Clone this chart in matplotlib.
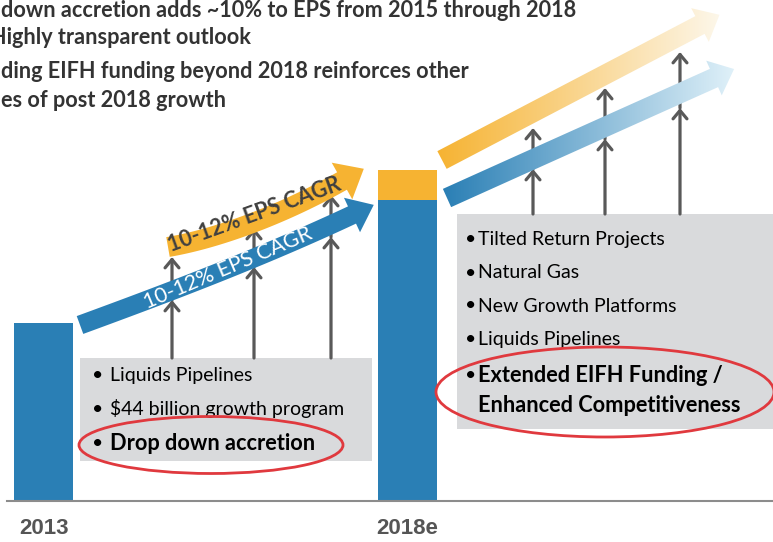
import numpy as np
import matplotlib.pyplot as plt
from matplotlib.patches import Polygon, Rectangle, Ellipse
from matplotlib.colors import LinearSegmentedColormap

# --- data ---------------------------------------------------------------
years = ["2013", "2018e"]
base_eps = [1.00, 1.69]          # EPS index, 2013 = 1.0
dropdown_eps = [0.00, 0.17]      # drop down accretion stacked on 2018e

headline = [
    "down accretion adds ~10% to EPS from 2015 through 2018",
    "Highly transparent outlook",
    "ding EIFH funding beyond 2018 reinforces other",
    "es of post 2018 growth",
]
left_items = ["Liquids Pipelines", "$44 billion growth program"]
left_bold = "Drop down accretion"
right_items = ["Tilted Return Projects", "Natural Gas", "New Growth Platforms",
               "Liquids Pipelines"]
right_bold = ["Extended EIFH Funding /", "Enhanced Competitiveness"]
cagr_label = "10-12% EPS CAGR"

BLUE = "#2a7fb5"
ORANGE = "#f6b332"
GREY = "#595959"
BOX = "#d9dadc"
RED = "#e0393e"
FONT = "Lato"

fig = plt.figure(figsize=(7.73, 5.42), dpi=100)
ax = fig.add_axes([0, 0, 1, 1])


def bezier(p, n=60):
    p = np.array(p, float)
    t = np.linspace(0, 1, n)[:, None]
    if len(p) == 3:
        c = (1 - t) ** 2 * p[0] + 2 * (1 - t) * t * p[1] + t ** 2 * p[2]
    else:
        c = ((1 - t) ** 3 * p[0] + 3 * (1 - t) ** 2 * t * p[1]
             + 3 * (1 - t) * t ** 2 * p[2] + t ** 3 * p[3])
    return c


def ribbon(ctrl, width, head_len, head_w, z):
    c = bezier(ctrl)
    d = np.gradient(c, axis=0)
    d /= np.linalg.norm(d, axis=1)[:, None]
    n = np.column_stack([-d[:, 1], d[:, 0]])
    left = c + n * width / 2
    right = c - n * width / 2
    e, de, ne = c[-1], d[-1], n[-1]
    head = [e + ne * head_w / 2, e + de * head_len, e - ne * head_w / 2]
    pts = np.vstack([left, head, right[::-1]])
    return Polygon(pts, closed=True, lw=0, zorder=z)


def up_arrow(x, y0, y1, z=2):
    ax.annotate("", xy=(x, y1), xytext=(x, y0), zorder=z,
                arrowprops=dict(arrowstyle="->,head_length=0.6,head_width=0.5",
                                lw=2.3, color=GREY, shrinkA=0, shrinkB=0))


# --- bars -----------------------------------------------------------------
baseline = 501
scale = 178          # px per EPS index unit
bar_x = [43.5, 407.5]
bar_w = 59
ax.bar(bar_x, [-v * scale for v in base_eps], bottom=baseline, width=bar_w,
       color=BLUE, zorder=3)
tops = [baseline - v * scale for v in base_eps]
ax.bar(bar_x, [-v * scale for v in dropdown_eps], bottom=tops, width=bar_w,
       color=ORANGE, zorder=3)
ax.plot([7, 773], [baseline, baseline], color="#8c8c8c", lw=1.5, zorder=4)
for x, lab in zip(bar_x, years):
    ax.text(x, 529, lab, ha="center", va="center", fontsize=16,
            fontweight="bold", color="#555555", family="Liberation Sans")

# --- grey boxes ------------------------------------------------------------
ax.add_patch(Rectangle((80, 358), 292, 103, color=BOX, lw=0, zorder=1))
ax.add_patch(Rectangle((457, 214), 330, 215, color=BOX, lw=0, zorder=1))

for i, s in enumerate(left_items):
    y = 376 + i * 33
    ax.text(92, y, "\u2022", ha="left", va="center", fontsize=14, family=FONT)
    ax.text(110, y, s, ha="left", va="center", fontsize=14, family=FONT)
ax.text(92, 443, "\u2022", ha="left", va="center", fontsize=14, family=FONT)
ax.text(110, 443, left_bold, ha="left", va="center", fontsize=15.7,
        fontweight="bold", family=FONT)

for i, s in enumerate(right_items):
    y = 240 + i * 33
    ax.text(465, y, "\u2022", ha="left", va="center", fontsize=14, family=FONT)
    ax.text(478, y, s, ha="left", va="center", fontsize=14, family=FONT)
ax.text(465, 376, "\u2022", ha="left", va="center", fontsize=14, family=FONT)
for i, s in enumerate(right_bold):
    ax.text(478, 376 + i * 29, s, ha="left", va="center", fontsize=15.7,
            fontweight="bold", family=FONT)

ax.add_patch(Ellipse((211, 445), 264, 57, fill=False, ec=RED, lw=2, zorder=5))
ax.add_patch(Ellipse((605, 392), 338, 90, fill=False, ec=RED, lw=2, zorder=5))

# --- grey growth arrows ------------------------------------------------------
for x, lo, hi in [(172, 300, 257), (254, 267, 228), (331, 237, 195)]:
    up_arrow(x, 358, lo)
    up_arrow(x, lo, hi)
for x, lo, hi in [(533, 169, 128), (605, 139, 88), (680, 108, 52)]:
    up_arrow(x, 214, lo)
    up_arrow(x, lo, hi)

# --- left ribbons (solid) ---------------------------------------------------
blue_l = ribbon([(80, 325), (170, 292), (260, 258), (352, 215)], 19, 24, 38, 6)
blue_l.set_facecolor(BLUE)
ax.add_patch(blue_l)
org_l = ribbon([(168, 247), (215, 239), (280, 216), (342, 181)], 20, 25, 42, 6)
org_l.set_facecolor(ORANGE)
ax.add_patch(org_l)
ax.text(228, 268, cagr_label, rotation=23, ha="center", va="center",
        fontsize=15.5, color="white", family=FONT, zorder=7,
        rotation_mode="anchor")
ax.text(254, 215, cagr_label, rotation=20, ha="center", va="center",
        fontsize=15.5, color="#404040", fontweight="bold", family=FONT,
        zorder=7, rotation_mode="anchor")

# --- right ribbons (fading gradient) ------------------------------------------
grad = np.linspace(0, 1, 256).reshape(1, -1)
for ctrl, c0, c1 in [
    ([(442, 160), (570, 93), (700, 25)], ORANGE, "#fdf7ea"),
    ([(447, 198), (580, 138), (714, 78)], BLUE, "#e0f1f9"),
]:
    p = ribbon(ctrl, 20, 22, 38, 6)
    p.set_facecolor("none")
    ax.add_patch(p)
    x0, y0 = p.get_xy().min(axis=0)
    x1, y1 = p.get_xy().max(axis=0)
    cmap = LinearSegmentedColormap.from_list("fade", [c0, c1])
    im = ax.imshow(grad, cmap=cmap, extent=(x0, x1, y1, y0), aspect="auto",
                   zorder=6)
    im.set_clip_path(p)

# --- headline -----------------------------------------------------------------
for y, s, x in zip([17, 44, 78, 107], headline, [1, -10, 1, 1]):
    ax.text(x, y, s, ha="left", va="baseline", fontsize=15.6,
            fontweight="bold", color="#333333", family=FONT)

ax.set_xlim(0, 773)
ax.set_ylim(542, 0)
ax.axis("off")
fig.savefig("out.png", dpi=100)
